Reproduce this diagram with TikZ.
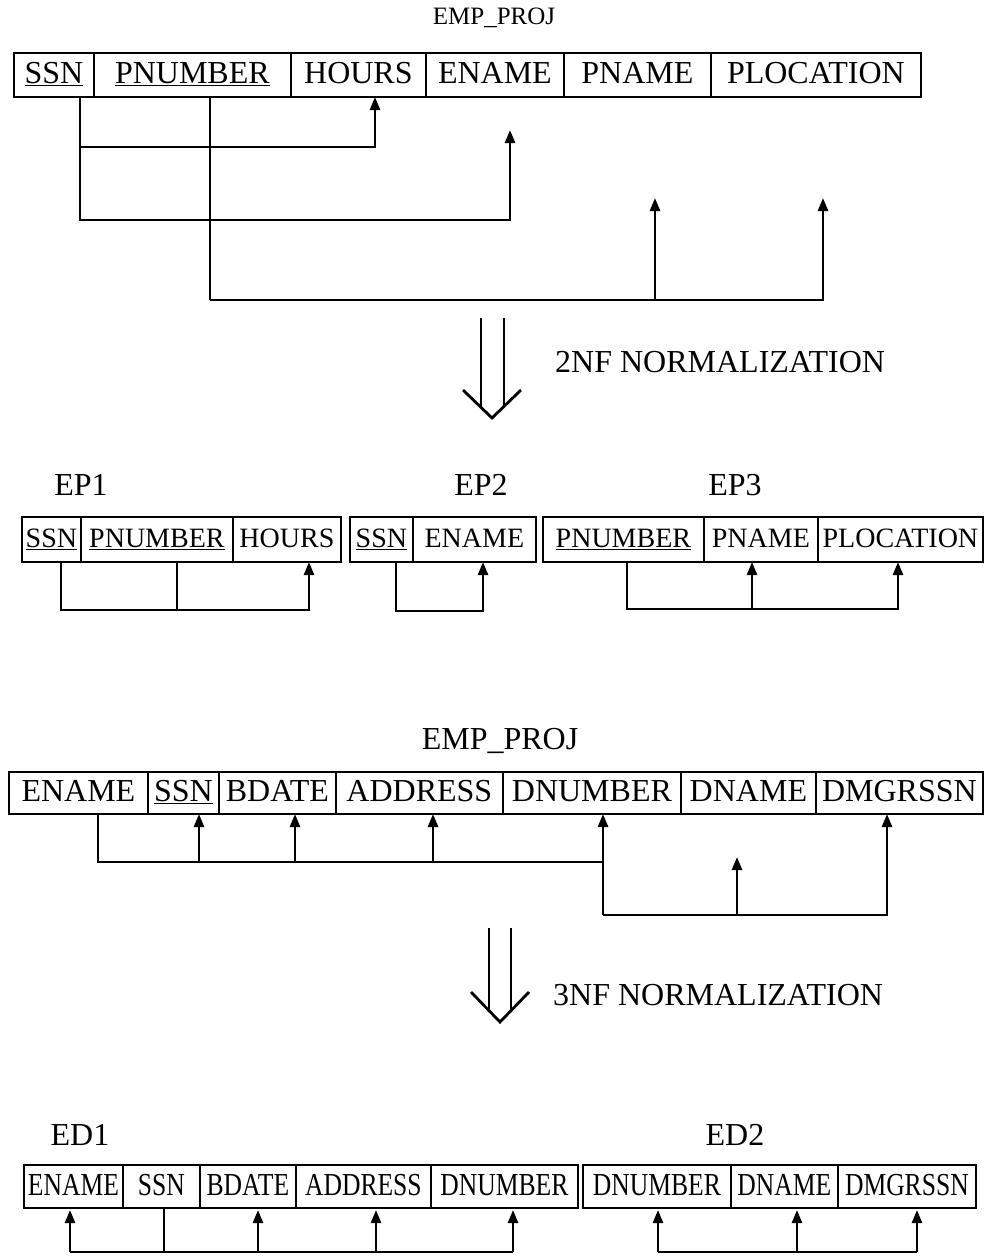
\documentclass[tikz,border=0pt]{standalone}
\usepackage{fontspec}
\setmainfont{Liberation Serif}
\usepackage{graphicx}
\usetikzlibrary{arrows.meta}
\newcommand{\cx}[1]{\scalebox{0.8}[1]{#1}}
\begin{document}
\begin{tikzpicture}[x=1pt,y=-1pt,
  cell/.style={draw, line width=1.8pt, inner sep=0pt, anchor=north west},
  big/.style={cell, font=\fontsize{32}{36}\selectfont, text height=22pt, text depth=4pt},
  mid/.style={cell, font=\fontsize{28}{32}\selectfont, text height=19pt, text depth=3pt, minimum height=45pt},
  low/.style={cell, font=\fontsize{32}{36}\selectfont, text height=21pt, text depth=3pt, minimum height=43pt},
  lbl/.style={inner sep=0pt, font=\fontsize{32}{36}\selectfont},
  conn/.style={line width=2.5pt, line join=miter},
  arr/.style={conn, -{Triangle[length=13pt,width=10pt]}},
  dbl/.style={line width=2.8pt, line join=miter}]
\useasboundingbox (0,0) rectangle (1002,1256);
\fill[white] (0,0) rectangle (1002,1256);

% ---------------- top EMP_PROJ ----------------
\node[inner sep=0pt, font=\fontsize{25}{28}\selectfont] (title1) at (494,18) {EMP\_PROJ};
\node[big, minimum width=80pt,  minimum height=44pt] (a1) at (13,52)  {\underline{SSN}};
\node[big, minimum width=197pt, minimum height=44pt] (a2) at (93,52)  {\underline{PNUMBER}};
\node[big, minimum width=135pt, minimum height=44pt] (a3) at (290,52) {HOURS};
\node[big, minimum width=138pt, minimum height=44pt] (a4) at (425,52) {ENAME};
\node[big, minimum width=147pt, minimum height=44pt] (a5) at (563,52) {PNAME};
\node[big, minimum width=210pt, minimum height=44pt] (a6) at (710,52) {PLOCATION};

\coordinate (a1s) at (80,96);   \coordinate (a2s) at (210,96);
\coordinate (a3t) at (375,97);  \coordinate (a4t) at (510,130);
\coordinate (a5t) at (655,198); \coordinate (a6t) at (823,198);
\coordinate (k1) at (80,147);   \coordinate (k2) at (375,147);
\coordinate (k3) at (510,220);  \coordinate (k4) at (210,300);
\coordinate (k5) at (655,300);  \coordinate (k6) at (823,300);
\draw[arr] (a1s) |- (k2) -- (a3t);
\draw[conn] (a2s) -- (k4);
\draw[arr] (k1) |- (k3) -- (a4t);
\draw[arr] (k4) -- (k6) -- (a6t);
\draw[arr] (k5) -- (a5t);

% ---------------- 2NF arrow ----------------
\coordinate (d1a) at (481,318); \coordinate (d1b) at (481,407);
\coordinate (d1c) at (504,318); \coordinate (d1d) at (504,406);
\coordinate (v1l) at (463,390); \coordinate (v1t) at (492,418); \coordinate (v1r) at (521,390);
\draw[dbl] (d1a) -- (d1b);
\draw[dbl] (d1c) -- (d1d);
\draw[dbl] (v1l) -- (v1t) -- (v1r);
\node[lbl, anchor=west] (n2) at (555,362) {2NF NORMALIZATION};

% ---------------- EP1 EP2 EP3 ----------------
\node[lbl] (ep1) at (81,485) {EP1};
\node[lbl] (ep2) at (481,485) {EP2};
\node[lbl] (ep3) at (735,485) {EP3};

\node[mid, minimum width=59pt]  (b1) at (21,516)  {\underline{SSN}};
\node[mid, minimum width=152pt] (b2) at (80,516)  {\underline{PNUMBER}};
\node[mid, minimum width=108pt] (b3) at (232,516) {HOURS};

\node[mid, minimum width=63pt]  (c1) at (349,516) {\underline{SSN}};
\node[mid, minimum width=123pt] (c2) at (412,516) {ENAME};

\node[mid, minimum width=161pt] (e1) at (542,516) {\underline{PNUMBER}};
\node[mid, minimum width=114pt] (e2) at (703,516) {PNAME};
\node[mid, minimum width=165pt] (e3) at (817,516) {PLOCATION};

\coordinate (b1s) at (61,561);  \coordinate (b2s) at (177,561);
\coordinate (b3t) at (309,562); \coordinate (m1) at (309,610);
\coordinate (m2) at (177,610);
\draw[arr] (b1s) |- (m1) -- (b3t);
\draw[conn] (b2s) -- (m2);

\coordinate (c1s) at (396,561); \coordinate (c2t) at (483,562); \coordinate (m3) at (483,611);
\draw[arr] (c1s) |- (m3) -- (c2t);

\coordinate (e1s) at (627,561); \coordinate (e2t) at (752,562); \coordinate (e3t) at (898,562);
\coordinate (m4) at (898,609);  \coordinate (m5) at (752,609);
\draw[arr] (e1s) |- (m4) -- (e3t);
\draw[arr] (m5) -- (e2t);

% ---------------- middle EMP_PROJ ----------------
\node[lbl] (title2) at (500,741) {EMP\_PROJ};
\node[big, minimum width=139pt, minimum height=42pt] (f1) at (8,771)   {ENAME};
\node[big, minimum width=71pt,  minimum height=42pt] (f2) at (147,771) {\underline{SSN}};
\node[big, minimum width=117pt, minimum height=42pt] (f3) at (218,771) {BDATE};
\node[big, minimum width=167pt, minimum height=42pt] (f4) at (335,771) {ADDRESS};
\node[big, minimum width=178pt, minimum height=42pt] (f5) at (502,771) {DNUMBER};
\node[big, minimum width=135pt, minimum height=42pt] (f6) at (680,771) {DNAME};
\node[big, minimum width=167pt, minimum height=42pt] (f7) at (815,771) {DMGRSSN};

\coordinate (f1s) at (98,813);
\coordinate (f2t) at (199,814); \coordinate (f3t) at (295,814);
\coordinate (f4t) at (433,814); \coordinate (f5t) at (603,814);
\coordinate (f6t) at (737,857); \coordinate (f7t) at (887,814);
\coordinate (g1) at (603,862);  \coordinate (g2) at (199,862);
\coordinate (g3) at (295,862);  \coordinate (g4) at (433,862);
\coordinate (g5) at (603,915);  \coordinate (g6) at (887,915);
\coordinate (g7) at (737,915);
\draw[conn] (f1s) |- (g1);
\draw[arr] (g2) -- (f2t);
\draw[arr] (g3) -- (f3t);
\draw[arr] (g4) -- (f4t);
\draw[arr] (g5) -- (f5t);
\draw[arr] (g5) -- (g6) -- (f7t);
\draw[arr] (g7) -- (f6t);

% ---------------- 3NF arrow ----------------
\coordinate (d2a) at (489,928); \coordinate (d2b) at (489,1011);
\coordinate (d2c) at (511,928); \coordinate (d2d) at (511,1011);
\coordinate (v2l) at (471,992); \coordinate (v2t) at (500,1022); \coordinate (v2r) at (529,992);
\draw[dbl] (d2a) -- (d2b);
\draw[dbl] (d2c) -- (d2d);
\draw[dbl] (v2l) -- (v2t) -- (v2r);
\node[lbl, anchor=west] (n3) at (553,995) {3NF NORMALIZATION};

% ---------------- ED1 ED2 ----------------
\node[lbl] (ed1) at (80,1135) {ED1};
\node[lbl] (ed2) at (735,1135) {ED2};

\node[low, minimum width=99pt]  (h1) at (23,1164)  {\cx{ENAME}};
\node[low, minimum width=77pt]  (h2) at (122,1164) {\cx{SSN}};
\node[low, minimum width=96pt]  (h3) at (199,1164) {\cx{BDATE}};
\node[low, minimum width=135pt] (h4) at (295,1164) {\cx{ADDRESS}};
\node[low, minimum width=147pt] (h5) at (430,1164) {\cx{DNUMBER}};

\node[low, minimum width=148pt] (i1) at (582,1164) {\cx{DNUMBER}};
\node[low, minimum width=107pt] (i2) at (730,1164) {\cx{DNAME}};
\node[low, minimum width=138pt] (i3) at (837,1164) {\cx{DMGRSSN}};

\coordinate (h1t) at (70,1210);  \coordinate (h2s) at (164,1207);
\coordinate (h3t) at (258,1210); \coordinate (h4t) at (376,1210);
\coordinate (h5t) at (513,1210);
\coordinate (w1) at (70,1252);   \coordinate (w2) at (164,1252);
\coordinate (w3) at (258,1252);  \coordinate (w4) at (376,1252);
\coordinate (w5) at (513,1252);
\draw[conn] (w1) -- (w5);
\draw[conn] (h2s) -- (w2);
\draw[arr] (w1) -- (h1t);
\draw[arr] (w3) -- (h3t);
\draw[arr] (w4) -- (h4t);
\draw[arr] (w5) -- (h5t);

\coordinate (i1t) at (658,1210); \coordinate (i2t) at (797,1210); \coordinate (i3t) at (917,1210);
\coordinate (u1) at (658,1252);  \coordinate (u2) at (797,1252);  \coordinate (u3) at (917,1252);
\draw[conn] (u1) -- (u3);
\draw[arr] (u1) -- (i1t);
\draw[arr] (u2) -- (i2t);
\draw[arr] (u3) -- (i3t);
\end{tikzpicture}
\end{document}
